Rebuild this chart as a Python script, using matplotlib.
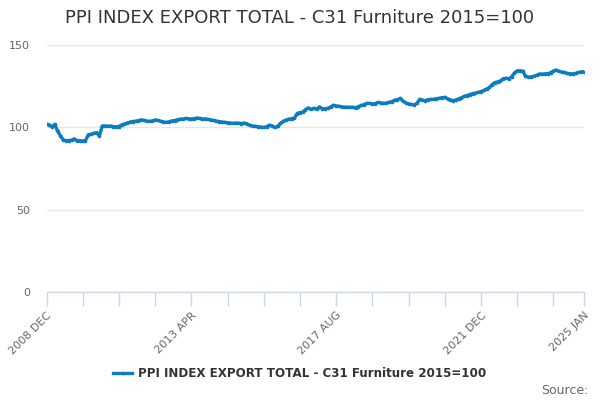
import matplotlib
matplotlib.use("Agg")
import matplotlib.pyplot as plt
import numpy as np

# Monthly index values, 2008 DEC .. 2025 JAN
ppi_values = [
    101.9, 101.5, 100.3, 101.8, 97.5, 95.0, 92.5, 91.8, 92.0, 92.2,
    93.0, 91.8, 92.0, 91.6, 92.0, 95.5, 95.8, 96.4, 96.8, 94.8,
    100.8, 100.9, 100.6, 100.8, 100.4, 100.3, 100.5, 101.5, 102.0, 102.6,
    103.2, 103.5, 103.8, 104.0, 104.6, 104.2, 103.8, 103.6, 103.9, 104.5,
    104.2, 103.7, 103.3, 103.0, 103.4, 103.9, 104.1, 104.6, 105.0, 105.0,
    105.4, 105.2, 105.0, 105.3, 105.6, 105.4, 105.0, 105.1, 104.8, 104.5,
    104.2, 103.8, 103.5, 103.2, 103.0, 102.8, 102.6, 102.4, 102.6, 102.5,
    102.3, 102.6, 102.2, 101.2, 100.8, 100.6, 100.4, 100.2, 99.9, 100.3,
    101.3, 100.9, 99.9, 100.6, 102.4, 103.6, 104.4, 105.0, 105.2, 105.6,
    108.4, 109.0, 109.2, 110.8, 111.8, 110.9, 111.6, 111.0, 112.4, 111.4,
    111.2, 111.5, 112.3, 113.4, 113.0, 112.8, 112.5, 112.2, 112.3, 112.1,
    112.2, 111.8, 112.6, 113.3, 113.8, 114.6, 114.5, 114.2, 114.4, 115.1,
    114.9, 114.5, 114.8, 115.2, 115.6, 116.5, 116.8, 117.6, 116.0, 114.9,
    114.2, 113.9, 113.6, 114.6, 117.0, 116.5, 116.2, 116.8, 117.0, 117.0,
    117.4, 117.6, 118.0, 118.2, 117.4, 116.7, 116.2, 116.6, 117.3, 118.0,
    118.8, 119.3, 119.9, 120.5, 120.8, 121.3, 121.7, 122.4, 123.2, 124.2,
    126.0, 127.2, 127.6, 128.2, 129.6, 129.8, 129.5, 130.6, 133.0, 134.3,
    134.4, 134.1, 131.2, 130.4, 130.6, 131.0, 131.6, 132.4, 132.3, 132.5,
    132.6, 133.2, 134.2, 134.8, 134.0, 133.6, 133.3, 132.7, 132.6, 132.4,
    132.8, 133.3, 133.7, 133.8,
]

# x-axis ticks every 13 months, labels on every 4th plus the last month
tick_step = 13
label_positions = {0: "2008 DEC", 52: "2013 APR", 104: "2017 AUG", 156: "2021 DEC", 193: "2025 JAN"}
y_ticks = [0, 50, 100, 150]

series_name = "PPI INDEX EXPORT TOTAL - C31 Furniture 2015=100"
LINE_COLOR = "#0c7cc1"
AXIS_COLOR = "#ccd6eb"
TEXT_GRAY = "#666666"

x = np.arange(len(ppi_values))

fig = plt.figure(figsize=(6, 4), dpi=100)
ax = fig.add_axes([0.0775, 0.27, 0.8958, 0.6175])

ax.plot(x, ppi_values, color=LINE_COLOR, linewidth=2.4, marker="o",
        markersize=1.6, label=series_name, zorder=3)

ax.set_xlim(0, len(ppi_values) - 1)
ax.set_ylim(0, 150)

ax.set_yticks(y_ticks)
ax.set_yticklabels([str(v) for v in y_ticks])
ax.tick_params(axis="y", length=0, pad=12, labelsize=8, labelcolor=TEXT_GRAY)
ax.grid(axis="y", color="#e6e6e6", linewidth=1)
ax.set_axisbelow(True)

ticks = list(range(0, len(ppi_values), tick_step))
if ticks[-1] != len(ppi_values) - 1:
    ticks.append(len(ppi_values) - 1)
ax.set_xticks(ticks)
ax.set_xticklabels([label_positions.get(t, "") for t in ticks],
                   rotation=45, ha="right", rotation_mode="anchor")
ax.tick_params(axis="x", length=10, width=1, color=AXIS_COLOR,
               labelsize=8, labelcolor=TEXT_GRAY, pad=3)

for side in ["top", "right", "left"]:
    ax.spines[side].set_visible(False)
ax.spines["bottom"].set_color(AXIS_COLOR)
ax.spines["bottom"].set_linewidth(1)

fig.text(0.5, 0.955, series_name, ha="center", va="center",
         fontsize=13, color="#333333")

leg = fig.legend(loc="center", bbox_to_anchor=(0.5, 0.067), frameon=False,
                 prop={"size": 8.6, "weight": "bold"}, handlelength=1.6,
                 handletextpad=0.5)
for t in leg.get_texts():
    t.set_color("#333333")

fig.text(0.98, 0.025, "Source:", ha="right", va="center", fontsize=9,
         color=TEXT_GRAY)

fig.savefig("out.png", dpi=100)
